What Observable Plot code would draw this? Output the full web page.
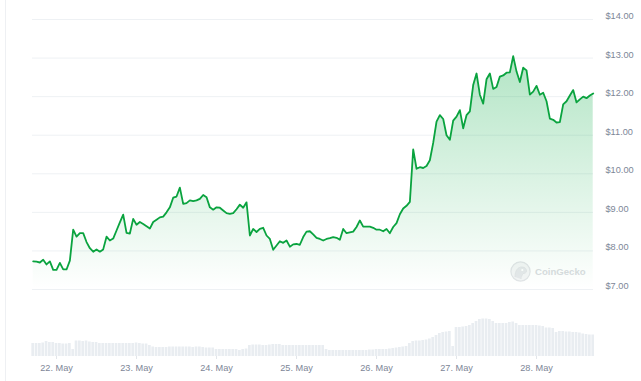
<!DOCTYPE html>
<html>
<head>
<meta charset="utf-8">
<script src="https://cdn.jsdelivr.net/npm/d3@7"></script>
<script src="https://cdn.jsdelivr.net/npm/@observablehq/plot@0.6"></script>
<style>
  html, body { margin: 0; padding: 0; background: #ffffff; }
  #wrap { position: relative; width: 641px; height: 381px; overflow: hidden; font-family: "Liberation Sans", Arial, sans-serif; }
  #wrap > svg, #wrap > .layer { position: absolute; left: 0; top: 0; }
  #edge { position: absolute; left: 5px; top: 0; width: 1px; height: 381px; background: #eef0f3; }
  #wm { position: absolute; left: 510px; top: 261px; display: flex; align-items: center; gap: 4px; }
  #wm span { font-size: 9.6px; font-weight: 700; color: #d9dcdf; letter-spacing: 0; }
</style>
</head>
<body>
<div id="wrap">
  <div id="edge"></div>
</div>
<script>
// ---- data (hourly, starting 21 May 17:00 UTC) ----
const startTime = "2024-05-21T17:00:00Z";
const prices = [
  7.73,7.72,7.70,7.77,7.65,7.73,7.51,7.51,7.69,7.52,
  7.52,7.75,8.55,8.37,8.46,8.46,8.23,8.07,7.98,8.04,
  7.98,8.04,8.37,8.27,8.32,8.53,8.74,8.94,8.47,8.45,
  8.83,8.68,8.75,8.70,8.64,8.58,8.75,8.81,8.87,8.89,
  9.00,9.13,9.38,9.41,9.64,9.22,9.24,9.31,9.29,9.31,
  9.35,9.45,9.39,9.13,9.07,9.13,9.12,9.05,8.98,8.96,
  8.98,9.08,9.20,9.12,9.26,8.40,8.57,8.49,8.57,8.60,
  8.40,8.31,8.03,8.14,8.25,8.21,8.27,8.11,8.17,8.18,
  8.16,8.36,8.50,8.51,8.43,8.34,8.31,8.27,8.31,8.33,
  8.36,8.34,8.29,8.57,8.46,8.48,8.50,8.62,8.79,8.63,
  8.63,8.63,8.60,8.55,8.55,8.51,8.57,8.46,8.62,8.72,
  8.95,9.10,9.17,9.27,10.63,10.13,10.17,10.15,10.20,10.35,
  10.80,11.35,11.52,11.42,11.00,10.88,11.38,11.48,11.65,11.18,
  11.52,11.62,12.30,12.60,12.05,11.82,12.45,12.60,12.20,12.25,
  12.52,12.55,12.62,12.63,13.05,12.65,12.38,12.75,12.68,12.05,
  12.13,12.28,12.05,12.10,11.88,11.43,11.40,11.33,11.34,11.80,
  11.88,12.03,12.17,11.85,11.93,12.00,11.96,12.03,12.08
];
const volumes = [
  13,13,13,13.5,15,14,14,13,13,12.5,
  12.5,13,7,15.5,15.5,15,15.5,14.5,14,14,
  13,13,13,13,13,13,13,13,13,13,
  13,13.5,13,12.5,12.5,11,9.5,9,9,9,
  9,9.5,9.5,9.5,9.5,9.5,9.5,9.5,9,9.5,
  9.5,9,8.5,8.5,8.5,7,7,7,7,7,
  7,7,6,7,7.5,11,11.5,11.5,11.5,11,
  11,11.5,12,12,12,11,11,11,11,11,
  11,11,11,11,11,11,11,11,7,6,
  6,6,6,6,6,6,6,6,6,6,
  6,6.5,6.5,7,7,7,7,7.5,8,8.5,
  9,9.5,10,13,15,15.5,15.5,16,16.5,17.5,
  19,21,23,24,24.5,25,10,29,29,29.5,
  30,31,33,35,37,37.5,37.5,37,35,33,
  33,33,33,34,34.5,33,31,31,31,31,
  31,31,30.5,30,28.5,28.5,28,24,25,25,
  24.5,24.5,24,24,23.5,22.5,22,21.5,21.5
];
const priceTicks = [7, 8, 9, 10, 11, 12, 13, 14];
const dayTicks = ["2024-05-22","2024-05-23","2024-05-24","2024-05-25","2024-05-26","2024-05-27","2024-05-28"];

// ---- build table ----
const t0 = Date.parse(startTime);
const HOUR = 3600e3;
const rows = prices.map((p, i) => ({ t: new Date(t0 + i * HOUR), price: p, vol: volumes[i] }));
const tickDates = dayTicks.map(d => new Date(d + "T00:00:00Z"));
const xDomain = [rows[0].t, rows[rows.length - 1].t];
const xRange = [32.7, 592.7];

const green = "#0aa33f";
const fontStyle = { fontFamily: "'Liberation Sans', Arial, sans-serif", fontSize: "9.2px", background: "transparent", overflow: "visible" };

const gradientDefs = () => {
  const ns = "http://www.w3.org/2000/svg";
  const defs = document.createElementNS(ns, "defs");
  defs.innerHTML = `<linearGradient id="areaGrad" x1="0" y1="0" x2="0" y2="1">
    <stop offset="0" stop-color="#00a83e" stop-opacity="0.30"/>
    <stop offset="1" stop-color="#00a83e" stop-opacity="0"/>
  </linearGradient>`;
  return defs;
};

const pricePlot = Plot.plot({
  width: 641,
  height: 381,
  marginTop: 19,
  marginBottom: 92,
  marginLeft: 32,
  marginRight: 48,
  style: fontStyle,
  x: { type: "utc", domain: xDomain, range: xRange, axis: null },
  y: { domain: [7, 14], label: null },
  marks: [
    gradientDefs,
    Plot.gridY(priceTicks, { stroke: "#eef1f4", strokeOpacity: 1, strokeWidth: 1 }),
    Plot.areaY(rows, { x: "t", y1: 7, y2: "price", fill: "url(#areaGrad)" }),
    Plot.lineY(rows, { x: "t", y: "price", stroke: green, strokeWidth: 1.8, strokeLinejoin: "round", curve: "linear" }),
    Plot.axisY(priceTicks, {
      anchor: "right", tickSize: 0, tickPadding: 12, dy: -3.5, label: null,
      color: "#7d8697",
      tickFormat: d => "$" + d.toFixed(2)
    })
  ]
});

const volumePlot = Plot.plot({
  width: 641,
  height: 381,
  marginTop: 300,
  marginBottom: 25,
  marginLeft: 32,
  marginRight: 48,
  style: fontStyle,
  x: { type: "utc", domain: xDomain, range: xRange, label: null },
  y: { domain: [0, 38], range: [356, 318], axis: null },
  marks: [
    Plot.rectY(rows, {
      x1: d => new Date(+d.t - 0.4 * HOUR),
      x2: d => new Date(+d.t + 0.4 * HOUR),
      y1: 0, y2: "vol",
      fill: "#e9edf1"
    }),
    Plot.ruleX(tickDates, { x: d => d, y1: 0, y2: -3, stroke: "#e3e6ea" }),
    Plot.axisX(tickDates, {
      anchor: "bottom", tickSize: 0, tickPadding: 8, label: null,
      color: "#7d8697",
      tickFormat: d3.utcFormat("%-d. %b")
    })
  ]
});

const wrap = document.getElementById("wrap");
wrap.appendChild(volumePlot);

// watermark
const wm = document.createElement("div");
wm.id = "wm";
wm.innerHTML = `<svg width="21" height="21" viewBox="0 0 21 21">
  <circle cx="10.5" cy="10.5" r="9.6" fill="#f4f5f6" stroke="#e2e4e7" stroke-width="1.2"/>
  <path d="M5 16 C5 9 8 6 12 6 C15 6 16.5 8 16.5 10 C16.5 12 14.5 12.5 13 12.5 C12 14.5 11 16 11 18" fill="#e6e8eb" stroke="#dfe2e5" stroke-width="0.8"/>
  <circle cx="12.3" cy="9" r="1.1" fill="#ffffff"/>
</svg><span>CoinGecko</span>`;
wrap.appendChild(wm);

wrap.appendChild(pricePlot);
</script>
</body>
</html>
